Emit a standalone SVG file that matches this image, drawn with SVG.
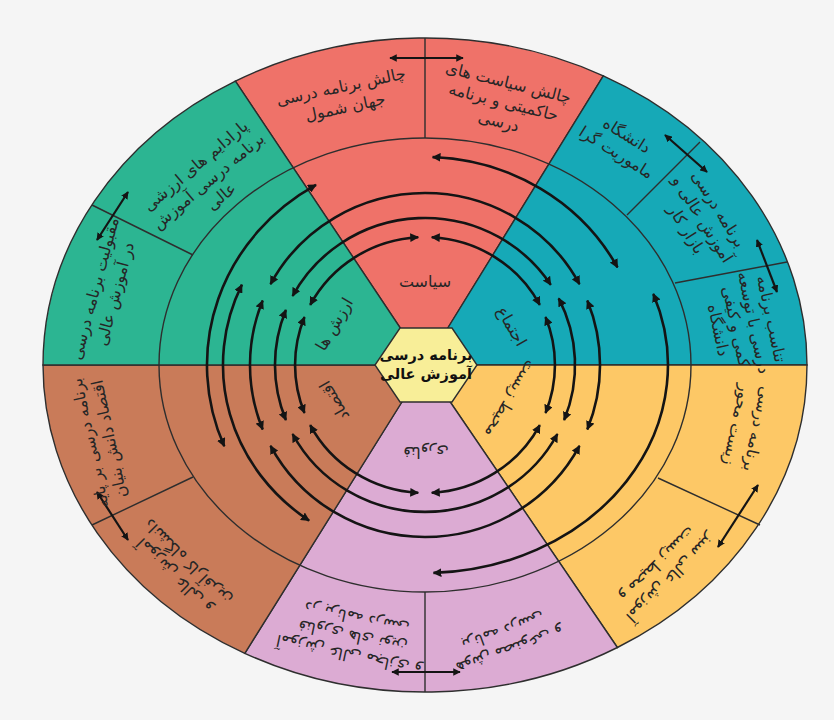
<svg xmlns="http://www.w3.org/2000/svg" width="834" height="720" viewBox="0 0 834 720">
<defs>
<style>
.sec{stroke:#2e2e2e;stroke-width:1.4}
.ln{stroke:#2e2e2e;stroke-width:1.4;fill:none}
.ring{stroke:#141414;stroke-width:2.6;fill:none;marker-start:url(#ah);marker-end:url(#ah)}
.arw{stroke:#141414;stroke-width:2.2;fill:none;marker-start:url(#ah);marker-end:url(#ah)}
.t{font-family:"DejaVu Sans",sans-serif;font-size:16px;fill:#262626;text-anchor:middle}
.ti{font-family:"DejaVu Sans",sans-serif;font-size:16px;fill:#262626;text-anchor:middle}
.tc{font-family:"DejaVu Sans",sans-serif;font-size:14.5px;font-weight:bold;fill:#111;text-anchor:middle}
</style>
<marker id="ah" viewBox="0 0 10 10" refX="9" refY="5" markerWidth="3.4" markerHeight="3.4" orient="auto-start-reverse" markerUnits="strokeWidth"><path d="M0,0 L10,5 L0,10 z" fill="#141414"/></marker>
</defs>
<rect width="834" height="720" fill="#f5f5f5"/>
<g id="sectors">
<path id="s-politics" class="sec" fill="#ef7269" d="M425,365 L235.4,81.1 A382,327 0 0 1 603.3,75.8 Z"/>
<path id="s-society" class="sec" fill="#16a9b7" d="M425,365 L603.3,75.8 A382,327 0 0 1 807,365 Z"/>
<path id="s-env" class="sec" fill="#fdc866" d="M425,365 L807,365 A382,327 0 0 1 617.4,647.5 Z"/>
<path id="s-tech" class="sec" fill="#dcabd3" d="M425,365 L617.4,647.5 A382,327 0 0 1 244.8,653.3 Z"/>
<path id="s-econ" class="sec" fill="#c97b59" d="M425,365 L244.8,653.3 A382,327 0 0 1 43,365 Z"/>
<path id="s-values" class="sec" fill="#2cb592" d="M425,365 L43,365 A382,327 0 0 1 235.4,81.1 Z"/>
</g>
<g id="dividers">
<ellipse class="ln" cx="425" cy="365" rx="266" ry="227"/>
<path class="ln" d="M425,38 L425,138 M627,215 L700,142 M675,283 L787,262 M193,255 L92,205 M193,477 L92,525 M425,592 L425,692 M658,478 L760,525"/>
</g>
<g id="connectors">
<path class="ring" d="M431.8,237.2 A130,128 0 0 1 539.8,304.9"/>
<path class="ring" d="M545.5,317.1 A130,128 0 0 1 545.5,412.9"/>
<path class="ring" d="M539.8,425.1 A130,128 0 0 1 431.8,492.8"/>
<path class="ring" d="M418.2,492.8 A130,128 0 0 1 310.2,425.1"/>
<path class="ring" d="M304.5,412.9 A130,128 0 0 1 304.5,317.1"/>
<path class="ring" d="M310.2,304.9 A130,128 0 0 1 418.2,237.2"/>
<path class="ring" d="M292.6,296 A150,147 0 0 1 550.8,284.9"/>
<path class="ring" d="M558.7,298.3 A150,147 0 0 1 564.1,420.1"/>
<path class="ring" d="M557.4,434 A150,147 0 0 1 292.6,434"/>
<path class="ring" d="M285.9,420.1 A150,147 0 0 1 285.9,309.9"/>
<path class="ring" d="M270.5,284.2 A175,172 0 0 1 579.5,284.2"/>
<path class="ring" d="M587.3,300.6 A175,172 0 0 1 587.3,429.4"/>
<path class="ring" d="M579.5,445.8 A175,172 0 0 1 270.5,445.8"/>
<path class="ring" d="M262.7,429.4 A175,172 0 0 1 262.7,300.6"/>
<path class="ring" d="M309.1,520.6 A202,190 0 0 1 241.9,284.7"/>
<path class="ring" d="M432.6,157.1 A218,208 0 0 1 617.5,267.4"/>
<path class="ring" d="M224.3,446.3 A218,208 0 0 1 316,184.9"/>
<path class="ring" d="M653.3,293.9 A243,208 0 0 1 433.5,572.9"/>
<path class="arw" d="M390,58 L463,58"/>
<path class="arw" d="M665,135 L707,172"/>
<path class="arw" d="M757,240 L777,292"/>
<path class="arw" d="M128,192 L97,240"/>
<path class="arw" d="M97,492 L128,540"/>
<path class="arw" d="M392,672 L460,672"/>
<path class="arw" d="M758,485 L718,547"/>
</g>
<g id="hub">
<polygon class="sec" fill="#f8ee98" points="400,328 452,328 477,365 452,402 400,402 375,365"/>
<text class="tc" x="426" y="360">برنامه درسی</text>
<text class="tc" x="426" y="379">آموزش عالی</text>
</g>
<g id="labels-inner">
<text class="ti" x="425" y="287">سیاست</text>
<text class="ti" transform="translate(507,329) rotate(60)">اجتماع</text>
<text class="ti" transform="translate(339,327) rotate(-60)">ارزش ها</text>
<text class="ti" transform="translate(339,398) rotate(-120)">اقتصاد</text>
<text class="ti" transform="translate(426,447) rotate(180)">فناوری</text>
<text class="ti" transform="translate(506,396) rotate(120)">محیط زیست</text>
</g>
<g id="labels-outer">
<text class="t" transform="translate(342,92) rotate(-12)"><tspan x="0" dy="0">چالش برنامه درسی</tspan><tspan x="0" dy="21">جهان شمول</tspan></text>
<text class="t" transform="translate(507,88) rotate(14)"><tspan x="0" dy="0">چالش سیاست های</tspan><tspan x="0" dy="20">حاکمیتی و برنامه</tspan><tspan x="0" dy="20">درسی</tspan></text>
<text class="t" transform="translate(624,140) rotate(32)"><tspan x="0" dy="0">دانشگاه</tspan><tspan x="0" dy="20">ماموریت گرا</tspan></text>
<text class="t" transform="translate(714,212) rotate(58)"><tspan x="0" dy="0">برنامه درسی</tspan><tspan x="0" dy="19">آموزش عالی و</tspan><tspan x="0" dy="19">بازار کار</tspan></text>
<text class="t" transform="translate(766,320) rotate(78)"><tspan x="0" dy="0">تناسب برنامه</tspan><tspan x="0" dy="18">درسی با توسعه</tspan><tspan x="0" dy="18">کمی و کیفی</tspan><tspan x="0" dy="18">دانشگاه</tspan></text>
<text class="t" transform="translate(199,170) rotate(-40)"><tspan x="0" dy="0">پارادایم های ارزشی</tspan><tspan x="0" dy="20">برنامه درسی آموزش</tspan><tspan x="0" dy="20">عالی</tspan></text>
<text class="t" transform="translate(100,290) rotate(-75)"><tspan x="0" dy="0">مقبولیت برنامه درسی</tspan><tspan x="0" dy="21">در آموزش عالی</tspan></text>
<text class="t" transform="translate(95,442) rotate(-102)"><tspan x="0" dy="0">برنامه درسی بر پایه</tspan><tspan x="0" dy="20">اقتصاد دانش بنیان</tspan></text>
<text class="t" transform="translate(178,572) rotate(-135)"><tspan x="0" dy="0">آموزش عالی و</tspan><tspan x="0" dy="19">دانشگاه کارآفرین</tspan></text>
<text class="t" transform="translate(350,650) rotate(-168)"><tspan x="0" dy="0">آموزش عالی مجازی و</tspan><tspan x="0" dy="19">فناوری های نوین</tspan><tspan x="0" dy="19">در برنامه درسی</tspan></text>
<text class="t" transform="translate(508,645) rotate(160)"><tspan x="0" dy="0">هوش مصنوعی و</tspan><tspan x="0" dy="20">برنامه درسی</tspan></text>
<text class="t" transform="translate(752,428) rotate(102)"><tspan x="0" dy="0">برنامه درسی</tspan><tspan x="0" dy="21">زیست محور</tspan></text>
<text class="t" transform="translate(667,574) rotate(135)"><tspan x="0" dy="0">آموزش عالی سبز</tspan><tspan x="0" dy="19">و محیط زیست</tspan></text>
</g>
</svg>
